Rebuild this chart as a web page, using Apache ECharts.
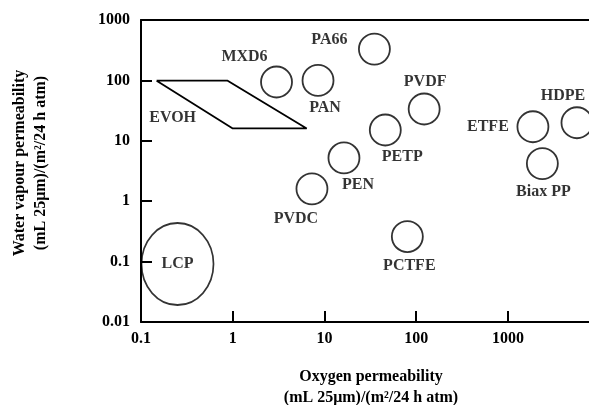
<!DOCTYPE html>
<html>
<head>
<meta charset="utf-8">
<script src="https://cdn.jsdelivr.net/npm/echarts@6/dist/echarts.min.js"></script>
<style>
html,body{margin:0;padding:0;background:#fff;}
#c{width:589px;height:405px;}
</style>
</head>
<body>
<div id="c"></div>
<script>
// Data (oxygen permeability, water vapour permeability)
var names  = ['MXD6', 'PA66', 'PAN', 'PVDF', 'PETP', 'PEN', 'PVDC', 'PCTFE', 'ETFE', 'HDPE', 'Biax PP'];
var oxygen = [3.0, 35, 8.5, 122, 46, 16.3, 7.3, 80, 1870, 5650, 2370];
var water  = [94, 330, 100, 33.6, 15.1, 5.2, 1.6, 0.26, 17.1, 19.9, 4.2];
var lcpX = [0.25];
var lcpY = [0.091];
var evohX = [0.148, 0.88, 6.4, 1.0, 0.148];
var evohY = [99, 99, 16, 16, 99];
var xTicks = [0.1, 1, 10, 100, 1000];
var yTicks = [0.01, 0.1, 1, 10, 100, 1000];
var xTitle = 'Oxygen permeability\n(mL 25μm)/(m²/24 h atm)';
var yTitle = 'Water vapour permeability\n(mL 25μm)/(m²/24 h atm)';

// Layout / styling (not data)
var labelOffsets = {
  'MXD6': [-32, -25], 'PA66': [-45, -9], 'PAN': [7, 27], 'PVDF': [1, -27],
  'PETP': [17, 27], 'PEN': [14, 27], 'PVDC': [-16, 30], 'PCTFE': [2, 29],
  'ETFE': [-45, 0], 'HDPE': [-14, -27], 'Biax PP': [1, 28]
};
var FONT = 'Liberation Serif';
var txt = {fontFamily: FONT, fontWeight: 'bold', fontSize: 16, color: '#000'};

var pts = names.map(function (n, i) {
  return {name: n, value: [oxygen[i], water[i]], label: {offset: labelOffsets[n]}};
});

function fmt(v) { return String(+v.toPrecision(6)); }

var chart = echarts.init(document.getElementById('c'), null, {renderer: 'canvas'});
chart.setOption({
  animation: false,
  backgroundColor: '#fff',
  grid: {left: 141, top: 20, right: 0, bottom: 83, outerBoundsMode: 'none', containLabel: false},
  xAxis: [{
    type: 'log', logBase: 10, min: 0.1, max: 7640,
    axisLine: {show: true, onZero: false, lineStyle: {color: '#000', width: 2}},
    axisTick: {show: true, inside: true, length: 11, lineStyle: {color: '#000', width: 2}, customValues: xTicks},
    axisLabel: Object.assign({margin: 9, customValues: xTicks, formatter: fmt}, txt),
    splitLine: {show: false}
  }, {
    type: 'log', logBase: 10, min: 0.1, max: 7640, position: 'top',
    axisLine: {show: true, lineStyle: {color: '#000', width: 2}},
    axisTick: {show: false}, axisLabel: {show: false}, splitLine: {show: false}
  }],
  yAxis: {
    type: 'log', logBase: 10, min: 0.01, max: 1000,
    axisLine: {show: true, onZero: false, lineStyle: {color: '#000', width: 2}},
    axisTick: {show: true, inside: true, length: 11, lineStyle: {color: '#000', width: 2}, customValues: yTicks},
    axisLabel: Object.assign({margin: 11, customValues: yTicks, formatter: fmt}, txt),
    splitLine: {show: false}
  },
  graphic: [{
    type: 'text', x: 371, y: 387, silent: true,
    style: Object.assign({text: xTitle, align: 'center', verticalAlign: 'middle', lineHeight: 21,
      font: 'bold 16px "Liberation Serif"', fill: '#000'})
  }, {
    type: 'text', x: 30, y: 163, rotation: Math.PI / 2, silent: true,
    style: {text: yTitle, align: 'center', verticalAlign: 'middle', lineHeight: 21,
      font: 'bold 16px "Liberation Serif"', fill: '#000'}
  }],
  series: [{
    type: 'scatter',
    data: pts,
    symbol: 'circle', symbolSize: 31,
    itemStyle: {color: 'rgba(0,0,0,0)', borderColor: '#000', borderWidth: 1.8},
    label: Object.assign({show: true, position: 'inside', formatter: '{b}'}, txt),
    emphasis: {disabled: true}, silent: true
  }, {
    type: 'scatter',
    data: lcpX.map(function (x, i) { return {name: 'LCP', value: [x, lcpY[i]]}; }),
    symbol: 'circle', symbolSize: [72, 82],
    itemStyle: {color: 'rgba(0,0,0,0)', borderColor: '#000', borderWidth: 1.8},
    label: Object.assign({show: true, position: 'inside', formatter: '{b}'}, txt),
    emphasis: {disabled: true}, silent: true
  }, {
    type: 'line',
    data: evohX.map(function (x, i) { return [x, evohY[i]]; }),
    symbol: 'none', showSymbol: false,
    lineStyle: {color: '#000', width: 1.8},
    emphasis: {disabled: true}, silent: true
  }, {
    type: 'scatter',
    data: [{name: 'EVOH', value: [evohX[0], evohY[0]]}],
    symbol: 'circle', symbolSize: 1,
    itemStyle: {color: 'rgba(0,0,0,0)'},
    label: Object.assign({show: true, position: 'inside', formatter: '{b}', offset: [16, 37]}, txt),
    emphasis: {disabled: true}, silent: true
  }]
});
</script>
</body>
</html>
